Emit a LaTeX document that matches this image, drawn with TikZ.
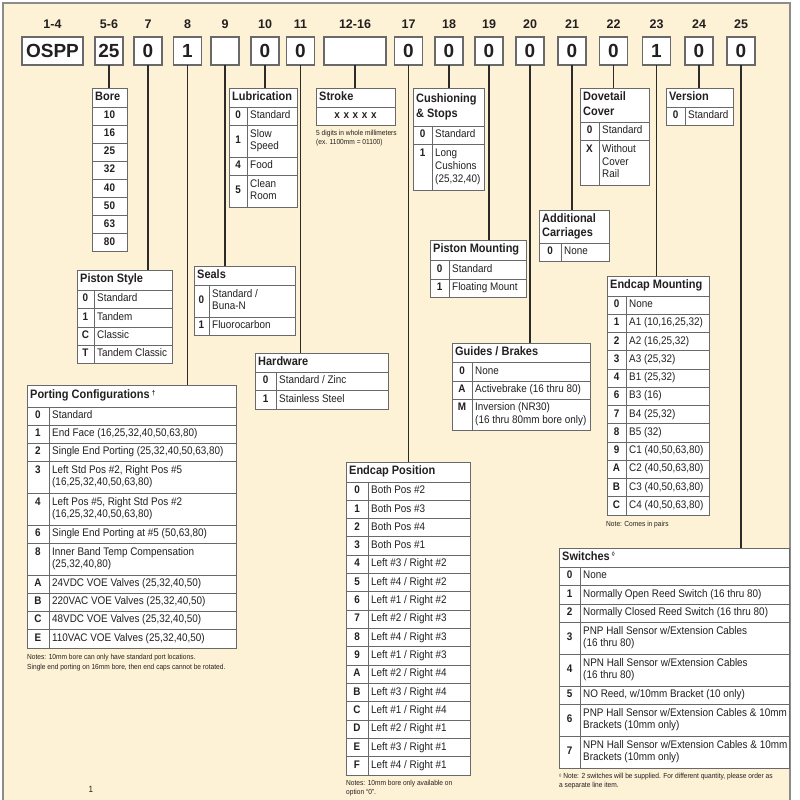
\documentclass[tikz,border=0pt]{standalone}
\usepackage{fontspec}
\setmainfont{Liberation Sans}[FakeStretch=0.9]
\newfontfamily\widefont{Liberation Sans}
\definecolor{cream}{RGB}{253,242,213}
\definecolor{framegray}{RGB}{140,140,140}
\definecolor{tgray}{RGB}{105,105,108}
\definecolor{ink}{RGB}{35,31,32}
\definecolor{cline}{RGB}{45,42,42}
\newcommand\bodyf{\fontsize{11}{12.8}\selectfont}
\newcommand\codef{\fontsize{11}{12.8}\selectfont\bfseries}
\newcommand\hdf{\fontsize{12.2}{14.5}\selectfont\bfseries}
\newcommand\notef{\fontsize{7.35}{9}\selectfont}
\newcommand\topf{\widefont\bfseries\fontsize{19}{19}\selectfont}
\newcommand\labf{\widefont\bfseries\fontsize{12.5}{12.5}\selectfont}
\tikzset{
  cellbox/.style={draw=tgray, fill=white, line width=1pt, anchor=north west, inner sep=0pt, outer sep=0pt, text=ink},
  codecell/.style={cellbox, font=\codef, align=center, inner xsep=1pt},
  onecell/.style={cellbox, font=\codef, align=center, inner xsep=1pt},
  hdtext/.style={font=\hdf, text=ink, align=left, inner sep=0pt, anchor=west},
  desctext/.style={font=\bodyf, text=ink, align=left, inner sep=0pt, anchor=west},
  topbox/.style={draw=tgray, fill=white, line width=1.3pt, inner sep=0pt, outer sep=0pt, font=\topf, text=ink, minimum height=28pt},
  toplab/.style={font=\labf, text=ink, inner sep=0pt},
  conn/.style={draw=cline, line width=1.5pt},
  notetext/.style={font=\notef, text=ink, anchor=base west, inner sep=0pt},
}
% header cell: name, x1, x2, y1, y2, text
\newcommand\hd[6]{%
  \pgfmathsetmacro\tkcw{#3-#2}\pgfmathsetmacro\tkch{#5-#4}%
  \node[cellbox, minimum width=\tkcw pt, minimum height=\tkch pt] (#1) at (#2,#4) {};
  \node[hdtext] (#1t) at ([xshift=3pt]#1.west) {\strut #6\strut};}
% single cell row: name, x1, x2, y1, y2, text
\newcommand\rone[6]{%
  \pgfmathsetmacro\tkcw{#3-#2}\pgfmathsetmacro\tkch{#5-#4}\pgfmathsetmacro\tktw{#3-#2-2}%
  \node[onecell, minimum width=\tkcw pt, minimum height=\tkch pt, text width=\tktw pt] (#1) at (#2,#4) {\strut #6\strut};}
% two cell row: name, x1, xd, x2, y1, y2, code, desc
\newcommand\rw[8]{%
  \pgfmathsetmacro\tkch{#6-#5}%
  \pgfmathsetmacro\tkcw{#3-#2}\pgfmathsetmacro\tkctw{#3-#2-2}%
  \pgfmathsetmacro\tkdw{#4-#3}%
  \node[codecell, minimum width=\tkcw pt, minimum height=\tkch pt, text width=\tkctw pt] (#1c) at (#2,#5) {\strut #7\strut};
  \node[cellbox, minimum width=\tkdw pt, minimum height=\tkch pt] (#1d) at (#3,#5) {};
  \node[desctext] (#1t) at ([xshift=3pt]#1d.west) {\strut #8\strut};}
\begin{document}
\begin{tikzpicture}[x=1pt,y=-1pt]
\useasboundingbox (0,0) rectangle (800,800);
\fill[white] (0,0) rectangle (800,800);
\draw[draw=framegray, fill=cream, line width=1.2pt] (3,3) rectangle (790,815);

% top row boxes
\node[topbox, minimum width=61pt] (b14) at (52.5,51) {OSPP};
\node[topbox, minimum width=28pt] (b56) at (109,51) {25};
\node[topbox, minimum width=28pt] (b7) at (148,51) {0};
\node[topbox, minimum width=28pt] (b8) at (187.5,51) {1};
\node[topbox, minimum width=28pt] (b9) at (225,51) {};
\node[topbox, minimum width=28pt] (b10) at (265,51) {0};
\node[topbox, minimum width=28pt] (b11) at (300.5,51) {0};
\node[topbox, minimum width=62pt] (b1216) at (355,51) {};
\node[topbox, minimum width=28pt] (b17) at (408.5,51) {0};
\node[topbox, minimum width=28pt] (b18) at (449,51) {0};
\node[topbox, minimum width=28pt] (b19) at (489,51) {0};
\node[topbox, minimum width=28pt] (b20) at (530,51) {0};
\node[topbox, minimum width=28pt] (b21) at (572,51) {0};
\node[topbox, minimum width=28pt] (b22) at (613.5,51) {0};
\node[topbox, minimum width=28pt] (b23) at (656.5,51) {1};
\node[topbox, minimum width=28pt] (b24) at (699,51) {0};
\node[topbox, minimum width=28pt] (b25) at (741,51) {0};

% position labels
\node[toplab] (l14) at (52.5,24) {1-4};
\node[toplab] (l56) at (109,24) {5-6};
\node[toplab] (l7) at (148,24) {7};
\node[toplab] (l8) at (187.5,24) {8};
\node[toplab] (l9) at (225,24) {9};
\node[toplab] (l10) at (265,24) {10};
\node[toplab] (l11) at (300.5,24) {11};
\node[toplab] (l1216) at (355,24) {12-16};
\node[toplab] (l17) at (408.5,24) {17};
\node[toplab] (l18) at (449,24) {18};
\node[toplab] (l19) at (489,24) {19};
\node[toplab] (l20) at (530,24) {20};
\node[toplab] (l21) at (572,24) {21};
\node[toplab] (l22) at (613.5,24) {22};
\node[toplab] (l23) at (656.5,24) {23};
\node[toplab] (l24) at (699,24) {24};
\node[toplab] (l25) at (741,24) {25};

% Bore
\hd{boreH}{92}{127}{88}{107}{Bore}
\rone{bo1}{92}{127}{107}{125.1}{10}
\rone{bo2}{92}{127}{125.1}{143.2}{16}
\rone{bo3}{92}{127}{143.2}{161.3}{25}
\rone{bo4}{92}{127}{161.3}{179.4}{32}
\rone{bo5}{92}{127}{179.4}{197.5}{40}
\rone{bo6}{92}{127}{197.5}{215.6}{50}
\rone{bo7}{92}{127}{215.6}{233.7}{63}
\rone{bo8}{92}{127}{233.7}{251.8}{80}

% Lubrication
\hd{luH}{229}{297}{88}{107}{Lubrication}
\rw{lu0}{229}{247}{297}{107}{125}{0}{Standard}
\rw{lu1}{229}{247}{297}{125}{157}{1}{Slow\\Speed}
\rw{lu4}{229}{247}{297}{157}{175}{4}{Food}
\rw{lu5}{229}{247}{297}{175}{207}{5}{Clean\\Room}

% Stroke
\hd{stH}{316}{395}{88}{107}{Stroke}
\rone{st1}{316}{395}{107}{125}{x x x x x}
\node[notetext] (stN1) at (316,135.5) {5 digits in whole millimeters};
\node[notetext] (stN2) at (316,144.5) {(ex. 1100mm = 01100)};

% Cushioning & Stops
\hd{cuH}{413}{484}{88}{126}{Cushioning\\\& Stops}
\rw{cu0}{413}{432}{484}{126}{144}{0}{Standard}
\rw{cu1}{413}{432}{484}{144}{190}{1\\~\\~}{Long\\Cushions\\(25,32,40)}

% Dovetail Cover
\hd{dvH}{580}{649}{88}{122}{Dovetail\\Cover}
\rw{dv0}{580}{599}{649}{122}{140}{0}{Standard}
\rw{dvX}{580}{599}{649}{140}{185}{X\\~\\~}{Without\\Cover\\Rail}

% Version
\hd{veH}{666}{733}{88}{107}{Version}
\rw{ve0}{666}{685}{733}{107}{125}{0}{Standard}

% Piston Style
\hd{psH}{77}{172}{270}{290}{Piston Style}
\rw{ps0}{77}{94}{172}{290}{308}{0}{Standard}
\rw{ps1}{77}{94}{172}{308}{327}{1}{Tandem}
\rw{psC}{77}{94}{172}{327}{345}{C}{Classic}
\rw{psT}{77}{94}{172}{345}{363}{T}{Tandem Classic}

% Seals
\hd{seH}{194}{295}{266}{285}{Seals}
\rw{se0}{194}{209}{295}{285}{317}{0}{Standard /\\Buna-N}
\rw{se1}{194}{209}{295}{317}{335}{1}{Fluorocarbon}

% Hardware
\hd{hwH}{255}{388}{353}{372}{Hardware}
\rw{hw0}{255}{276}{388}{372}{390}{0}{Standard / Zinc}
\rw{hw1}{255}{276}{388}{390}{409}{1}{Stainless Steel}

% Porting Configurations
\hd{pcH}{27}{236}{385}{407}{Porting Configurations\,\raisebox{3.5pt}{\fontsize{7}{7}\selectfont †}}
\rw{pc0}{27}{49}{236}{407}{425}{0}{Standard}
\rw{pc1}{27}{49}{236}{425}{443}{1}{End Face (16,25,32,40,50,63,80)}
\rw{pc2}{27}{49}{236}{443}{461}{2}{Single End Porting (25,32,40,50,63,80)}
\rw{pc3}{27}{49}{236}{461}{493}{3\\~}{Left Std Pos \#2, Right Pos \#5\\(16,25,32,40,50,63,80)}
\rw{pc4}{27}{49}{236}{493}{525}{4\\~}{Left Pos \#5, Right Std Pos \#2\\(16,25,32,40,50,63,80)}
\rw{pc6}{27}{49}{236}{525}{543}{6}{Single End Porting at \#5 (50,63,80)}
\rw{pc8}{27}{49}{236}{543}{575}{8\\~}{Inner Band Temp Compensation\\(25,32,40,80)}
\rw{pcA}{27}{49}{236}{575}{593}{A}{24VDC VOE Valves (25,32,40,50)}
\rw{pcB}{27}{49}{236}{593}{611}{B}{220VAC VOE Valves (25,32,40,50)}
\rw{pcC}{27}{49}{236}{611}{629}{C}{48VDC VOE Valves (25,32,40,50)}
\rw{pcE}{27}{49}{236}{629}{648}{E}{110VAC VOE Valves (25,32,40,50)}
\node[notetext] (pcN1) at (27,659.5) {Notes: 10mm bore can only have standard port locations.};
\node[notetext] (pcN2) at (27,669.5) {Single end porting on 16mm bore, then end caps cannot be rotated.};

% Piston Mounting
\hd{pmH}{430}{526}{240}{260}{Piston Mounting}
\rw{pm0}{430}{449}{526}{260}{279}{0}{Standard}
\rw{pm1}{430}{449}{526}{279}{297}{1}{Floating Mount}

% Additional Carriages
\hd{acH}{539}{609}{210}{243}{Additional\\Carriages}
\rw{ac0}{539}{561}{609}{243}{261}{0}{None}

% Guides / Brakes
\hd{gbH}{452}{590}{343}{362}{Guides / Brakes}
\rw{gb0}{452}{472}{590}{362}{381}{0}{None}
\rw{gbA}{452}{472}{590}{381}{399}{A}{Activebrake (16 thru 80)}
\rw{gbM}{452}{472}{590}{399}{430}{M\\~}{Inversion (NR30)\\(16 thru 80mm bore only)}

% Endcap Mounting
\hd{emH}{607}{709}{276}{296}{Endcap Mounting}
\rw{em0}{607}{626}{709}{296}{314.25}{0}{None}
\rw{em1}{607}{626}{709}{314.25}{332.5}{1}{A1 (10,16,25,32)}
\rw{em2}{607}{626}{709}{332.5}{350.75}{2}{A2 (16,25,32)}
\rw{em3}{607}{626}{709}{350.75}{369}{3}{A3 (25,32)}
\rw{em4}{607}{626}{709}{369}{387.25}{4}{B1 (25,32)}
\rw{em6}{607}{626}{709}{387.25}{405.5}{6}{B3 (16)}
\rw{em7}{607}{626}{709}{405.5}{423.75}{7}{B4 (25,32)}
\rw{em8}{607}{626}{709}{423.75}{442}{8}{B5 (32)}
\rw{em9}{607}{626}{709}{442}{460.25}{9}{C1 (40,50,63,80)}
\rw{emA}{607}{626}{709}{460.25}{478.5}{A}{C2 (40,50,63,80)}
\rw{emB}{607}{626}{709}{478.5}{496.75}{B}{C3 (40,50,63,80)}
\rw{emC}{607}{626}{709}{496.75}{515}{C}{C4 (40,50,63,80)}
\node[notetext] (emN) at (606,526.5) {Note: Comes in pairs};

% Endcap Position
\hd{epH}{346}{470}{462}{482}{Endcap Position}
\rw{ep0}{346}{368}{470}{482}{500.31}{0}{Both Pos \#2}
\rw{ep1}{346}{368}{470}{500.31}{518.63}{1}{Both Pos \#3}
\rw{ep2}{346}{368}{470}{518.63}{536.94}{2}{Both Pos \#4}
\rw{ep3}{346}{368}{470}{536.94}{555.25}{3}{Both Pos \#1}
\rw{ep4}{346}{368}{470}{555.25}{573.56}{4}{Left \#3 / Right \#2}
\rw{ep5}{346}{368}{470}{573.56}{591.88}{5}{Left \#4 / Right \#2}
\rw{ep6}{346}{368}{470}{591.88}{610.19}{6}{Left \#1 / Right \#2}
\rw{ep7}{346}{368}{470}{610.19}{628.5}{7}{Left \#2 / Right \#3}
\rw{ep8}{346}{368}{470}{628.5}{646.81}{8}{Left \#4 / Right \#3}
\rw{ep9}{346}{368}{470}{646.81}{665.13}{9}{Left \#1 / Right \#3}
\rw{epA}{346}{368}{470}{665.13}{683.44}{A}{Left \#2 / Right \#4}
\rw{epB}{346}{368}{470}{683.44}{701.75}{B}{Left \#3 / Right \#4}
\rw{epC}{346}{368}{470}{701.75}{720.06}{C}{Left \#1 / Right \#4}
\rw{epD}{346}{368}{470}{720.06}{738.38}{D}{Left \#2 / Right \#1}
\rw{epE}{346}{368}{470}{738.38}{756.69}{E}{Left \#3 / Right \#1}
\rw{epF}{346}{368}{470}{756.69}{775}{F}{Left \#4 / Right \#1}
\node[notetext] (epN1) at (346,785.5) {Notes: 10mm bore only available on};
\node[notetext] (epN2) at (346,794.5) {option “0”.};

% Switches
\hd{swH}{559}{789}{548}{567}{Switches\,\raisebox{3.5pt}{\fontsize{6.5}{6.5}\selectfont ◊}}
\rw{sw0}{559}{580}{789}{567}{585}{0}{None}
\rw{sw1}{559}{580}{789}{585}{604}{1}{Normally Open Reed Switch (16 thru 80)}
\rw{sw2}{559}{580}{789}{604}{622}{2}{Normally Closed Reed Switch (16 thru 80)}
\rw{sw3}{559}{580}{789}{622}{654}{3}{PNP Hall Sensor w/Extension Cables\\(16 thru 80)}
\rw{sw4}{559}{580}{789}{654}{686}{4}{NPN Hall Sensor w/Extension Cables\\(16 thru 80)}
\rw{sw5}{559}{580}{789}{686}{704}{5}{NO Reed, w/10mm Bracket (10 only)}
\rw{sw6}{559}{580}{789}{704}{736}{6}{PNP Hall Sensor w/Extension Cables \& 10mm\\Brackets (10mm only)}
\rw{sw7}{559}{580}{789}{736}{768}{7}{NPN Hall Sensor w/Extension Cables \& 10mm\\Brackets (10mm only)}
\node[notetext] (swN1) at (559,778.5) {\raisebox{1pt}{\fontsize{5}{5}\selectfont ◊} Note: 2 switches will be supplied. For different quantity, please order as};
\node[notetext] (swN2) at (559,787.5) {a separate line item.};

% page number remnant
\node[font=\fontsize{9}{9}\selectfont, text=ink, inner sep=0pt] (pg) at (91,789) {1};

% connectors
\draw[conn] (b56.south) -- (b56.south |- boreH.north);
\draw[conn] (b7.south) -- (b7.south |- psH.north);
\draw[conn] (b8.south) -- (b8.south |- pcH.north);
\draw[conn] (b9.south) -- (b9.south |- seH.north);
\draw[conn] (b10.south) -- (b10.south |- luH.north);
\draw[conn] (b11.south) -- (b11.south |- hwH.north);
\draw[conn] (b1216.south) -- (b1216.south |- stH.north);
\draw[conn] (b17.south) -- (b17.south |- epH.north);
\draw[conn] (b18.south) -- (b18.south |- cuH.north);
\draw[conn] (b19.south) -- (b19.south |- pmH.north);
\draw[conn] (b20.south) -- (b20.south |- gbH.north);
\draw[conn] (b21.south) -- (b21.south |- acH.north);
\draw[conn] (b22.south) -- (b22.south |- dvH.north);
\draw[conn] (b23.south) -- (b23.south |- emH.north);
\draw[conn] (b24.south) -- (b24.south |- veH.north);
\draw[conn] (b25.south) -- (b25.south |- swH.north);
\end{tikzpicture}
\end{document}
